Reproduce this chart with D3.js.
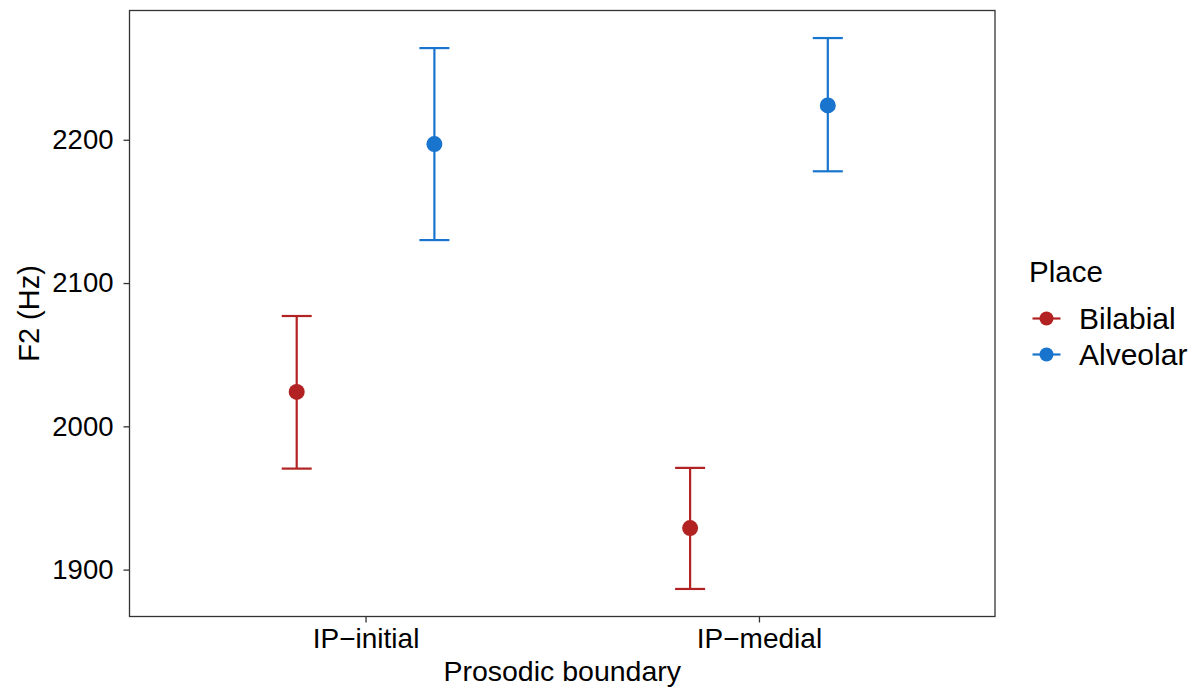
<!DOCTYPE html>
<html>
<head>
<meta charset="utf-8">
<script src="https://cdn.jsdelivr.net/npm/d3@7"></script>
<style>
  body { margin: 0; background: #fff; }
  text { font-family: "Liberation Sans", Arial, Helvetica, sans-serif; fill: #000; }
</style>
</head>
<body>
<svg id="chart" width="1193" height="687"></svg>
<script>
// data
var boundaries = ["IP-initial", "IP-medial"];
var places = ["Bilabial", "Alveolar"];
var placeColors = ["#B22222", "#1874CD"];
var yTicks = [1900, 2000, 2100, 2200];

// per place, one value per boundary
var bilabialMean  = [2024, 1929];
var bilabialLower = [1970.5, 1886.5];
var bilabialUpper = [2077, 1971];
var alveolarMean  = [2197, 2224];
var alveolarLower = [2130, 2178];
var alveolarUpper = [2264, 2271];

var rows = [];
boundaries.forEach(function(b, i) {
  rows.push({boundary: b, place: "Bilabial", mean: bilabialMean[i], lo: bilabialLower[i], hi: bilabialUpper[i]});
  rows.push({boundary: b, place: "Alveolar", mean: alveolarMean[i], lo: alveolarLower[i], hi: alveolarUpper[i]});
});

var svg = d3.select("#chart");
var margin = {left: 129.5, right: 198, top: 10.5, bottom: 70.5};
var width = +svg.attr("width"), height = +svg.attr("height");
var x0 = margin.left, x1 = width - margin.right;
var y0 = height - margin.bottom, y1 = margin.top;

// discrete x like ggplot: positions 1..n, expanded 0.6 each side
var pos = d3.scaleLinear().domain([0.4, boundaries.length + 0.6]).range([x0, x1]);
var dodge = 0.175;
function xOf(d) {
  var i = boundaries.indexOf(d.boundary) + 1;
  return pos(i + (d.place === "Bilabial" ? -dodge : dodge));
}

var lo = d3.min(rows, function(d) { return d.lo; }),
    hi = d3.max(rows, function(d) { return d.hi; });
var pad = (hi - lo) * 0.05;
var y = d3.scaleLinear().domain([lo - pad, hi + pad]).range([y0, y1]);
var color = d3.scaleOrdinal().domain(places).range(placeColors);

// panel border
svg.append("rect")
  .attr("x", x0).attr("y", y1)
  .attr("width", x1 - x0).attr("height", y0 - y1)
  .attr("fill", "none").attr("stroke", "#333").attr("stroke-width", 1.3);

// y axis
var yAxis = svg.append("g")
  .attr("transform", "translate(" + x0 + ",0)")
  .call(d3.axisLeft(y).tickValues(yTicks).tickSize(6).tickPadding(10).tickFormat(d3.format("d")));
yAxis.select(".domain").remove();
yAxis.selectAll(".tick line").attr("stroke", "#333").attr("stroke-width", 1.3);
yAxis.selectAll(".tick text").style("font-size", "27.5px").attr("fill", "#000");

// x axis
var xAxis = svg.append("g")
  .attr("transform", "translate(0," + y0 + ")")
  .call(d3.axisBottom(pos).tickValues([1, 2]).tickSize(6).tickPadding(6)
    .tickFormat(function(d) { return boundaries[d - 1].replace("-", "\u2212"); }));
xAxis.select(".domain").remove();
xAxis.selectAll(".tick line").attr("stroke", "#333").attr("stroke-width", 1.3);
xAxis.selectAll(".tick text").style("font-size", "28px").attr("fill", "#000");

// axis titles
svg.append("text")
  .attr("x", (x0 + x1) / 2).attr("y", 681)
  .attr("text-anchor", "middle")
  .style("font-size", "28.5px")
  .text("Prosodic boundary");

svg.append("text")
  .attr("transform", "translate(39," + ((y0 + y1) / 2) + ") rotate(-90)")
  .attr("text-anchor", "middle")
  .style("font-size", "29px")
  .text("F2 (Hz)");

// error bars
var bars = svg.append("g").selectAll("g").data(rows).enter().append("g")
  .attr("stroke", function(d) { return color(d.place); })
  .attr("stroke-width", 2.2);
bars.append("line")
  .attr("x1", xOf).attr("x2", xOf)
  .attr("y1", function(d) { return y(d.lo); })
  .attr("y2", function(d) { return y(d.hi); });
bars.append("line")
  .attr("x1", function(d) { return xOf(d) - 15; })
  .attr("x2", function(d) { return xOf(d) + 15; })
  .attr("y1", function(d) { return y(d.hi); })
  .attr("y2", function(d) { return y(d.hi); });
bars.append("line")
  .attr("x1", function(d) { return xOf(d) - 15; })
  .attr("x2", function(d) { return xOf(d) + 15; })
  .attr("y1", function(d) { return y(d.lo); })
  .attr("y2", function(d) { return y(d.lo); });

// points
svg.append("g").selectAll("circle").data(rows).enter().append("circle")
  .attr("cx", xOf)
  .attr("cy", function(d) { return y(d.mean); })
  .attr("r", 8)
  .attr("fill", function(d) { return color(d.place); });

// legend
var legend = svg.append("g").attr("transform", "translate(1029,0)");
legend.append("text")
  .attr("x", 0).attr("y", 282)
  .style("font-size", "29.5px")
  .text("Place");
var item = legend.selectAll(".item").data(places).enter().append("g")
  .attr("class", "item")
  .attr("transform", function(d, i) { return "translate(0," + (318.5 + i * 36) + ")"; });
item.append("line")
  .attr("x1", 3.5).attr("x2", 31.5)
  .attr("stroke", function(d) { return color(d); })
  .attr("stroke-width", 2.2);
item.append("circle")
  .attr("cx", 17.5).attr("r", 7)
  .attr("fill", function(d) { return color(d); });
item.append("text")
  .attr("x", 50).attr("dy", "0.35em")
  .style("font-size", "30px")
  .text(function(d) { return d; });
</script>
</body>
</html>
